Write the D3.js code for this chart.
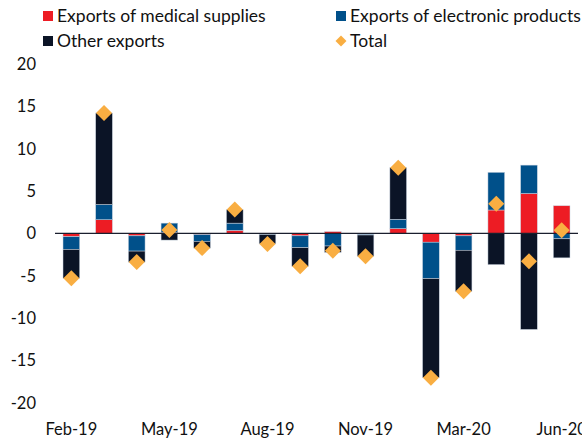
<!DOCTYPE html>
<html>
<head>
<meta charset="utf-8">
<script src="https://cdn.jsdelivr.net/npm/d3@7"></script>
<style>
  body { margin: 0; background: #fff; }
  svg text { font-family: Lato, "Open Sans", sans-serif; fill: #111; }
</style>
</head>
<body>
<svg id="chart" width="582" height="438"></svg>
<script>
// Contributions to export growth, by month (Jan/Feb 2020 combined)
const months = ['Feb-19','Mar-19','Apr-19','May-19','Jun-19','Jul-19','Aug-19','Sep-19',
  'Oct-19','Nov-19','Dec-19','Feb-20','Mar-20','Apr-20','May-20','Jun-20'];
const medical    = [-0.4, 1.6, -0.3, 0.1, -0.15, 0.35, -0.05, -0.3, 0.2, -0.1, 0.55, -1.05, -0.3, 2.75, 4.7, 3.25];
const electronic = [-1.5, 1.8, -1.8, 1.1, -0.8, 0.85, -0.1, -1.4, -1.5, -0.1, 1.1, -4.3, -1.7, 4.45, 3.35, -0.65];
const other      = [-3.4, 10.8, -1.3, -0.8, -0.8, 1.6, -1.1, -2.2, -0.75, -2.5, 6.1, -11.7, -4.85, -3.7, -11.35, -2.25];
const total      = [-5.3, 14.2, -3.4, 0.4, -1.75, 2.8, -1.25, -3.9, -2.05, -2.7, 7.75, -17.05, -6.85, 3.5, -3.3, 0.35];
const tickLabels = ['Feb-19','May-19','Aug-19','Nov-19','Mar-20','Jun-20'];
const yTicks = [-20, -15, -10, -5, 0, 5, 10, 15, 20];

const keys = ['medical', 'electronic', 'other'];
const names = {medical: 'Exports of medical supplies', electronic: 'Exports of electronic products', other: 'Other exports'};
const colors = {medical: '#ED1C24', electronic: '#00508A', other: '#0B1426'};
const totalColor = '#F9AE42';

const rows = months.map((m, i) => ({month: m, medical: medical[i], electronic: electronic[i], other: other[i], total: total[i]}));

const svg = d3.select('#chart');

const x = d3.scaleBand()
  .domain(months)
  .range([55, 578])
  .paddingInner(0.49)
  .paddingOuter(0.245);

const y = d3.scaleLinear()
  .domain([-20, 20])
  .range([402.7, 63.9]);

// subtitle, cut off by the top edge as in the source
svg.append('text')
  .attr('x', 0).attr('y', -3.5)
  .attr('font-size', 17)
  .text('(Contribution to y/y export growth, percentage points)');

// y tick labels (no axis line)
svg.append('g')
  .selectAll('text')
  .data(yTicks)
  .join('text')
    .attr('x', 36)
    .attr('y', d => y(d))
    .attr('dy', '0.36em')
    .attr('text-anchor', 'end')
    .attr('font-size', 16.5)
    .text(d => d);

const series = d3.stack().keys(keys).offset(d3.stackOffsetDiverging)(rows);

svg.append('g')
  .selectAll('g')
  .data(series)
  .join('g')
    .attr('fill', d => colors[d.key])
  .selectAll('rect')
  .data(d => d)
  .join('rect')
    .attr('x', d => x(d.data.month))
    .attr('width', x.bandwidth())
    .attr('y', d => y(Math.max(d[0], d[1])))
    .attr('height', d => Math.abs(y(d[0]) - y(d[1])))
    .attr('stroke', '#c9d3e0')
    .attr('stroke-width', 0.5);

// zero line
svg.append('line')
  .attr('x1', 55).attr('x2', 578)
  .attr('y1', y(0)).attr('y2', y(0))
  .attr('stroke', '#1a1f2e')
  .attr('stroke-width', 1.2);

// total diamonds
const diamond = d3.symbol().type(d3.symbolSquare).size(128);
svg.append('g')
  .selectAll('path')
  .data(rows)
  .join('path')
    .attr('d', diamond)
    .attr('transform', d => `translate(${x(d.month) + x.bandwidth() / 2},${y(d.total)}) rotate(45)`)
    .attr('fill', totalColor);

// x tick labels
svg.append('g')
  .selectAll('text')
  .data(tickLabels)
  .join('text')
    .attr('x', d => x(d) + x.bandwidth() / 2)
    .attr('y', 435)
    .attr('text-anchor', 'middle')
    .attr('font-size', 16.5)
    .text(d => d);

// legend
const legendItems = [
  {label: names.medical, color: colors.medical, shape: 'square', x: 43, y: 16},
  {label: names.electronic, color: colors.electronic, shape: 'square', x: 336, y: 16},
  {label: names.other, color: colors.other, shape: 'square', x: 43, y: 41},
  {label: 'Total', color: totalColor, shape: 'diamond', x: 336, y: 41}
];
const legend = svg.append('g')
  .selectAll('g')
  .data(legendItems)
  .join('g')
    .attr('transform', d => `translate(${d.x},${d.y})`);

legend.filter(d => d.shape === 'square')
  .append('rect')
    .attr('x', 0).attr('y', -5)
    .attr('width', 10).attr('height', 10)
    .attr('fill', d => d.color);

legend.filter(d => d.shape === 'diamond')
  .append('path')
    .attr('d', d3.symbol().type(d3.symbolSquare).size(60))
    .attr('transform', 'translate(5,0) rotate(45)')
    .attr('fill', d => d.color);

legend.append('text')
  .attr('x', 14)
  .attr('dy', '0.36em')
  .attr('font-size', 17.5)
  .text(d => d.label);
</script>
</body>
</html>
